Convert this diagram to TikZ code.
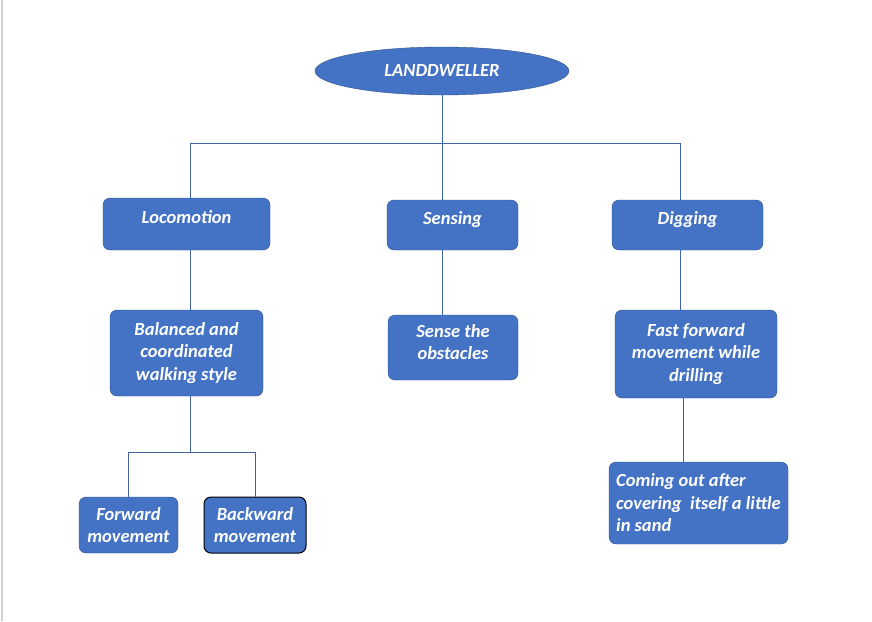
\documentclass[tikz,border=0pt]{standalone}
\usepackage{fontspec}
\setmainfont{Carlito}
\usepackage{tikz}
\usetikzlibrary{positioning,shapes.geometric}
\definecolor{boxblue}{HTML}{4472C4}
\definecolor{boxline}{HTML}{2F528F}
\definecolor{wireblue}{HTML}{3F64A8}

\begin{document}
\begin{tikzpicture}[x=1pt, y=-1pt,
        box/.style={rectangle, rounded corners=7pt, draw=boxline, fill=boxblue, text=white, inner sep=0pt, align=center, font=\fontsize{18.5}{22.5}\selectfont\bfseries\itshape},
        edge/.style={draw=wireblue, line width=0.8pt}
    ]
    \useasboundingbox (0,0) rectangle (872,621);
    \draw[gray!35, line width=2pt] (1.5,0) -- (1.5,621);

    % Define nodes
    \node[ellipse, draw=boxline, fill=boxblue, text=white, inner sep=0pt, minimum width=254, minimum height=48, font=\fontsize{18.5}{22.5}\selectfont\bfseries\itshape] (top) at (442,71) {LANDDWELLER};

    \node[box, text depth=14, minimum width=167, minimum height=52] (loco) at (186.5,224) {Locomotion};
    \node[box, text depth=14, minimum width=131, minimum height=50] (sens) at (452.5,225) {Sensing};
    \node[box, text depth=14, minimum width=151, minimum height=50] (dig) at (687.5,225) {Digging};

    \node[box, minimum width=153, minimum height=86] (bal) at (186.5,353) {Balanced and\\coordinated\\walking style};
    \node[box, text depth=11, minimum width=130, minimum height=65] (obst) at (453,347.5) {Sense the\\obstacles};
    \node[box, minimum width=162, minimum height=88] (fast) at (696,354) {Fast forward\\movement while\\drilling};

    \node[box, minimum width=99, minimum height=56] (fwd) at (128.5,525) {Forward\\movement};
    \node[box, draw=black, line width=1pt, minimum width=102, minimum height=56] (bwd) at (255,525) {Backward\\movement};
    \node[box, minimum width=179, minimum height=82, align=left] (come) at (698.5,503) {Coming out after\\covering\ \ itself a little\\in sand};

    % Join points
    \coordinate (jl) at (190,143);
    \coordinate (jr) at (680,143);
    \coordinate (jb) at (190,452);
    \coordinate (jd) at (683,398);

    % Draw edges from the top
    \draw[edge] (jl) -- (jr);
    \draw[edge] (top.south) -- (top.south |- sens.north);
    \draw[edge] (jl) -- (jl |- loco.north);
    \draw[edge] (jr) -- (jr |- dig.north);

    % Draw edges below each branch
    \draw[edge] (jl |- loco.south) -- (jl |- bal.north);
    \draw[edge] (top.south |- sens.south) -- (top.south |- obst.north);
    \draw[edge] (jr |- dig.south) -- (jr |- fast.north);
    \draw[edge] (jd |- fast.south) -- (jd |- come.north);

    % Split under the walking style
    \draw[edge] (jl |- bal.south) -- (jb);
    \draw[edge] (fwd.north) -- (fwd.north |- jb) -- (bwd.north |- jb) -- (bwd.north);

\end{tikzpicture}
\end{document}
